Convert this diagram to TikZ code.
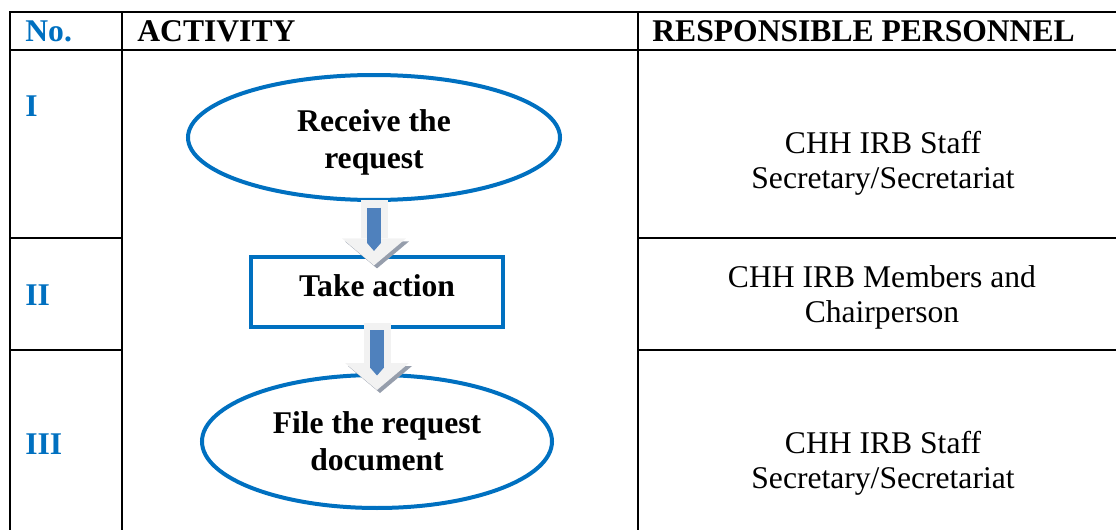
\documentclass[tikz,border=0pt]{standalone}
\usepackage{fontspec}
\setmainfont{Liberation Serif}
\usetikzlibrary{shapes.geometric, arrows.meta, positioning, calc}
\definecolor{irbblue}{RGB}{0,112,192}
\definecolor{arrowblue}{RGB}{79,129,189}
\definecolor{arrowfill}{RGB}{242,242,242}
\definecolor{arrowshade}{RGB}{150,158,172}

\begin{document}
\begin{tikzpicture}[x=0.5pt, y=-0.5pt,
    every node/.style={font=\fontsize{15.8}{18}\selectfont},
    grid/.style={line width=1pt},
    head/.style={anchor=base west, inner sep=0pt, font=\fontsize{15.8}{18}\selectfont\bfseries},
    rownum/.style={anchor=base west, inner sep=0pt, text=irbblue, font=\fontsize{15.8}{18}\selectfont\bfseries},
    person/.style={align=center, font=\fontsize{15.8}{17.5}\selectfont},
    event/.style={ellipse, draw=irbblue, line width=2pt, align=center, inner sep=0pt, font=\fontsize{15.8}{18.5}\selectfont\bfseries},
    task/.style={rectangle, draw=irbblue, line width=1.6pt, align=center, minimum width=126pt, minimum height=35pt, font=\fontsize{15.8}{18}\selectfont\bfseries},
    flow/.style={draw=arrowfill, line width=13.5pt, -{Triangle[width=32pt, length=13.5pt, line width=0pt]},
        preaction={draw=arrowshade, transform canvas={shift={(1.5pt,-1.5pt)}}},
        postaction={draw=arrowblue, line width=7pt, shorten <=3.75pt, shorten >=7.25pt,
            -{Triangle[width=7pt, length=4pt, line width=0pt]}}}
]
\useasboundingbox (0,0) rectangle (1116,530);

% table grid
\draw[grid] (10,530) -- (10,12) -- (1116,12);
\draw[grid] (10,50) -- (1116,50);
\draw[grid] (122,12) -- (122,530);
\draw[grid] (638,12) -- (638,530);
\foreach \y in {237.5,349.5} {
  \draw[grid] (10,\y) -- (122,\y);
  \draw[grid] (638,\y) -- (1116,\y);
}

% header
\node[head, text=irbblue] (hno) at (25,41) {No.};
\node[head] (hact) at (137,41) {ACTIVITY};
\node[head] (hresp) at (652,41) {RESPONSIBLE PERSONNEL};

% row numbers
\node[rownum] (one) at (25,116.5) {I};
\node[rownum] (two) at (25,305) {II};
\node[rownum] (three) at (25,454) {III};

% activity flow
\node[event, minimum width=186pt, minimum height=62.5pt] (recv) at (374,137.5) {\rule{0pt}{16pt}Receive the\\request};
\node[task] (act) at (377,292) {Take action\rule[-6pt]{0pt}{6pt}};
\node[event, minimum width=175pt, minimum height=66.5pt] (file) at (377,441.5) {File the request\\document};

% responsible personnel
\node[person] (staffa) at (883,163.2) {CHH IRB Staff\\Secretary/Secretariat};
\node[person] (board) at (882,297.2) {CHH IRB Members and\\Chairperson};
\node[person] (staffb) at (883,463.2) {CHH IRB Staff\\Secretary/Secretariat};

% arrows
\draw[flow] ($(recv.south)+(0,-2)$) -- ($(recv.south |- act.north)+(0,10)$);
\draw[flow] ($(act.south)+(0,-6)$) -- ($(act.south |- file.north)+(0,17)$);

\end{tikzpicture}
\end{document}
